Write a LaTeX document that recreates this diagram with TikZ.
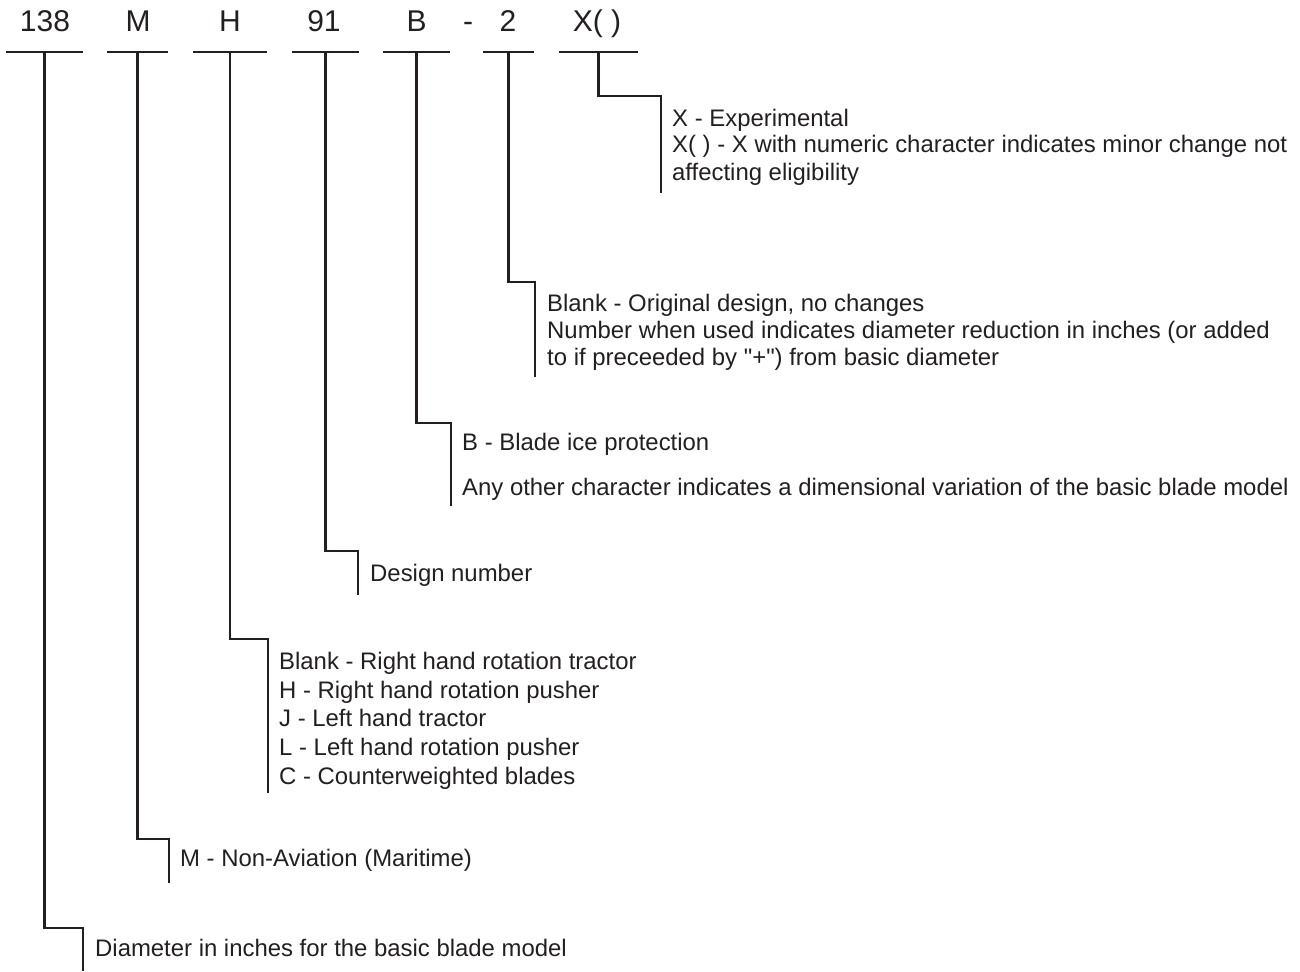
\documentclass[tikz,border=0pt]{standalone}
\usepackage{fontspec}
\setmainfont{Liberation Sans}[Ligatures=TeXOff]
\usetikzlibrary{calc}
\definecolor{InkGray}{RGB}{35,31,32}

\begin{document}
\begin{tikzpicture}[x=1pt, y=-1pt]
				\tikzstyle{every node}=[inner sep=0pt, text=InkGray];
				\tikzstyle{code}=[font=\fontsize{30}{36}\selectfont, anchor=base];
				\tikzstyle{note}=[font=\fontsize{23.9}{29}\selectfont, anchor=base west];
				\tikzstyle{bar}=[draw=InkGray, line width=2.2pt];
				\useasboundingbox (0,0) rectangle (1300,971);
				% model code
				\node [code] (c138) at (45,31.7) {138};
				\node [code] (cM) at (138,31.7) {M};
				\node [code] (cH) at (230,31.7) {H};
				\node [code] (c91) at (324,31.7) {91};
				\node [code] (cB) at (416.5,31.7) {B};
				\node [code] (cdash) at (468,31.7) {-};
				\node [code] (c2) at (508,31.7) {2};
				\node [code] (cX) at (597,31.7) {X( )};
				% underlines
				\coordinate (u138a) at (6,52);
				\coordinate (u138b) at (83,52);
				\coordinate (uMa) at (107,52);
				\coordinate (uMb) at (168,52);
				\coordinate (uHa) at (193,52);
				\coordinate (uHb) at (267,52);
				\coordinate (u91a) at (292,52);
				\coordinate (u91b) at (359,52);
				\coordinate (uBa) at (383,52);
				\coordinate (uBb) at (450,52);
				\coordinate (u2a) at (483,52);
				\coordinate (u2b) at (534,52);
				\coordinate (uXa) at (559,52);
				\coordinate (uXb) at (638,52);
				\draw [bar] (u138a) -- (u138b);
				\draw [bar] (uMa) -- (uMb);
				\draw [bar] (uHa) -- (uHb);
				\draw [bar] (u91a) -- (u91b);
				\draw [bar] (uBa) -- (uBb);
				\draw [bar] (u2a) -- (u2b);
				\draw [bar] (uXa) -- (uXb);
				% X( )
				\coordinate (tX) at ($(uXa)!0.5!(uXb)$);
				\coordinate (kX) at (661,96);
				\coordinate (eX) at (661,193);
				\draw [bar] (tX) |- (kX) -- (eX);
				\node [note] (nX1) at (672,126) {X - Experimental};
				\node [note] (nX2) at (672,153) {X( ) - X with numeric character indicates minor change not};
				\node [note] (nX3) at (672,180) {affecting eligibility};
				% 2
				\coordinate (t2) at ($(u2a)!0.5!(u2b)$);
				\coordinate (k2) at (535,282);
				\coordinate (e2) at (535,377);
				\draw [bar] (t2) |- (k2) -- (e2);
				\node [note] (n21) at (547,311) {Blank - Original design, no changes};
				\node [note] (n22) at (547,338) {Number when used indicates diameter reduction in inches (or added};
				\node [note] (n23) at (547,365) {to if preceeded by "+") from basic diameter};
				% B
				\coordinate (tB) at ($(uBa)!0.5!(uBb)$);
				\coordinate (kB) at (451,423);
				\coordinate (eB) at (451,506);
				\draw [bar] (tB) |- (kB) -- (eB);
				\node [note] (nB1) at (462,450) {B - Blade ice protection};
				\node [note] (nB2) at (462,495) {Any other character indicates a dimensional variation of the basic blade model};
				% 91
				\coordinate (t91) at ($(u91a)!0.5!(u91b)$);
				\coordinate (k91) at (358,551);
				\coordinate (e91) at (358,595);
				\draw [bar] (t91) |- (k91) -- (e91);
				\node [note] (n911) at (370,581) {Design number};
				% H
				\coordinate (tH) at ($(uHa)!0.5!(uHb)$);
				\coordinate (kH) at (268,639);
				\coordinate (eH) at (268,793);
				\draw [bar] (tH) |- (kH) -- (eH);
				\node [note] (nH1) at (279,669) {Blank - Right hand rotation tractor};
				\node [note] (nH2) at (279,698) {H - Right hand rotation pusher};
				\node [note] (nH3) at (279,726) {J - Left hand tractor};
				\node [note] (nH4) at (279,755) {L - Left hand rotation pusher};
				\node [note] (nH5) at (279,784) {C - Counterweighted blades};
				% M
				\coordinate (tM) at ($(uMa)!0.5!(uMb)$);
				\coordinate (kM) at (169,839);
				\coordinate (eM) at (169,883);
				\draw [bar] (tM) |- (kM) -- (eM);
				\node [note] (nM1) at (180,866) {M - Non-Aviation (Maritime)};
				% 138
				\coordinate (t138) at ($(u138a)!0.5!(u138b)$);
				\coordinate (k138) at (83,928);
				\coordinate (e138) at (83,971);
				\draw [bar] (t138) |- (k138) -- (e138);
				\node [note] (n1381) at (95,956) {Diameter in inches for the basic blade model};
			\end{tikzpicture}
\end{document}
